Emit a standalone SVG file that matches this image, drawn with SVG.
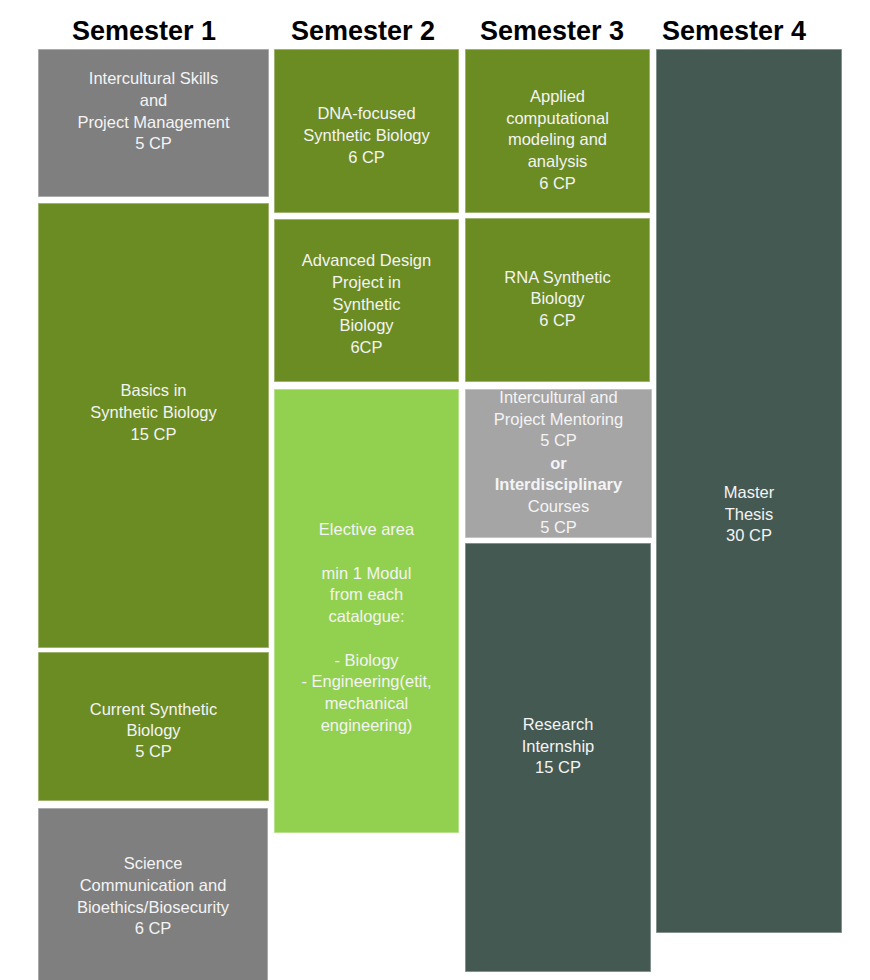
<svg xmlns="http://www.w3.org/2000/svg" width="870" height="980" viewBox="0 0 870 980">
<style>
.h{font-family:"Liberation Sans",Arial,sans-serif;font-weight:bold;font-size:27px;fill:#000;text-anchor:middle}
.t{font-family:"Liberation Sans",Arial,sans-serif;font-size:16.5px;fill:#f4f4f4;text-anchor:middle}
.b{font-weight:bold}
rect{stroke:#ffffff;stroke-opacity:0.45;stroke-width:1.5}
.gray{fill:#7f7f7f}
.olive{fill:#6b8b23}
.lime{fill:#92d050}
.lgray{fill:#a5a5a6}
.dark{fill:#445952}
</style>
<g id="headers">
<text class="h" x="144" y="40">Semester 1</text>
<text class="h" x="363" y="40">Semester 2</text>
<text class="h" x="552" y="40">Semester 3</text>
<text class="h" x="734" y="40">Semester 4</text>
</g>
<g id="n-intercultural-skills">
<rect class="gray" x="38" y="49" width="231" height="148"/>
<text class="t" x="153.5" y="84">Intercultural Skills</text>
<text class="t" x="153.5" y="106">and</text>
<text class="t" x="153.5" y="128">Project Management</text>
<text class="t" x="153.5" y="149">5 CP</text>
</g>
<g id="n-basics">
<rect class="olive" x="38" y="203" width="231" height="445"/>
<text class="t" x="153.5" y="396">Basics in</text>
<text class="t" x="153.5" y="418">Synthetic Biology</text>
<text class="t" x="153.5" y="440">15 CP</text>
</g>
<g id="n-current">
<rect class="olive" x="38" y="652" width="231" height="149"/>
<text class="t" x="153.5" y="715">Current Synthetic</text>
<text class="t" x="153.5" y="736">Biology</text>
<text class="t" x="153.5" y="757">5 CP</text>
</g>
<g id="n-science">
<rect class="gray" x="38" y="808" width="230" height="180"/>
<text class="t" x="153" y="869">Science</text>
<text class="t" x="153" y="891">Communication and</text>
<text class="t" x="153" y="913">Bioethics/Biosecurity</text>
<text class="t" x="153" y="934">6 CP</text>
</g>
<g id="n-dna">
<rect class="olive" x="274" y="49" width="185" height="164"/>
<text class="t" x="366.5" y="119">DNA-focused</text>
<text class="t" x="366.5" y="141">Synthetic Biology</text>
<text class="t" x="366.5" y="163">6 CP</text>
</g>
<g id="n-advanced">
<rect class="olive" x="274" y="219" width="185" height="163"/>
<text class="t" x="366.5" y="266">Advanced Design</text>
<text class="t" x="366.5" y="288">Project in</text>
<text class="t" x="366.5" y="310">Synthetic</text>
<text class="t" x="366.5" y="331">Biology</text>
<text class="t" x="366.5" y="353">6CP</text>
</g>
<g id="n-elective">
<rect class="lime" x="274" y="389" width="185" height="444"/>
<text class="t" x="366.5" y="535">Elective area</text>
<text class="t" x="366.5" y="579">min 1 Modul</text>
<text class="t" x="366.5" y="600">from each</text>
<text class="t" x="366.5" y="622">catalogue:</text>
<text class="t" x="366.5" y="666">- Biology</text>
<text class="t" x="366.5" y="687">- Engineering(etit,</text>
<text class="t" x="366.5" y="709">mechanical</text>
<text class="t" x="366.5" y="731">engineering)</text>
</g>
<g id="n-applied">
<rect class="olive" x="465" y="49" width="185" height="164"/>
<text class="t" x="557.5" y="102">Applied</text>
<text class="t" x="557.5" y="124">computational</text>
<text class="t" x="557.5" y="145">modeling and</text>
<text class="t" x="557.5" y="167">analysis</text>
<text class="t" x="557.5" y="189">6 CP</text>
</g>
<g id="n-rna">
<rect class="olive" x="465" y="218" width="185" height="164"/>
<text class="t" x="557.5" y="283">RNA Synthetic</text>
<text class="t" x="557.5" y="304">Biology</text>
<text class="t" x="557.5" y="326">6 CP</text>
</g>
<g id="n-mentoring">
<rect class="lgray" x="465" y="389" width="187" height="149"/>
<text class="t" x="558.5" y="403">Intercultural and</text>
<text class="t" x="558.5" y="425">Project Mentoring</text>
<text class="t" x="558.5" y="446">5 CP</text>
<text class="t b" x="558.5" y="469">or</text>
<text class="t b" x="558.5" y="490">Interdisciplinary</text>
<text class="t" x="558.5" y="512">Courses</text>
<text class="t" x="558.5" y="533">5 CP</text>
</g>
<g id="n-research">
<rect class="dark" x="465" y="543" width="186" height="429"/>
<text class="t" x="558" y="730">Research</text>
<text class="t" x="558" y="752">Internship</text>
<text class="t" x="558" y="773">15 CP</text>
</g>
<g id="n-master">
<rect class="dark" x="656" y="49" width="186" height="884"/>
<text class="t" x="749" y="498">Master</text>
<text class="t" x="749" y="520">Thesis</text>
<text class="t" x="749" y="541">30 CP</text>
</g>
<g id="connectors"></g>
</svg>
